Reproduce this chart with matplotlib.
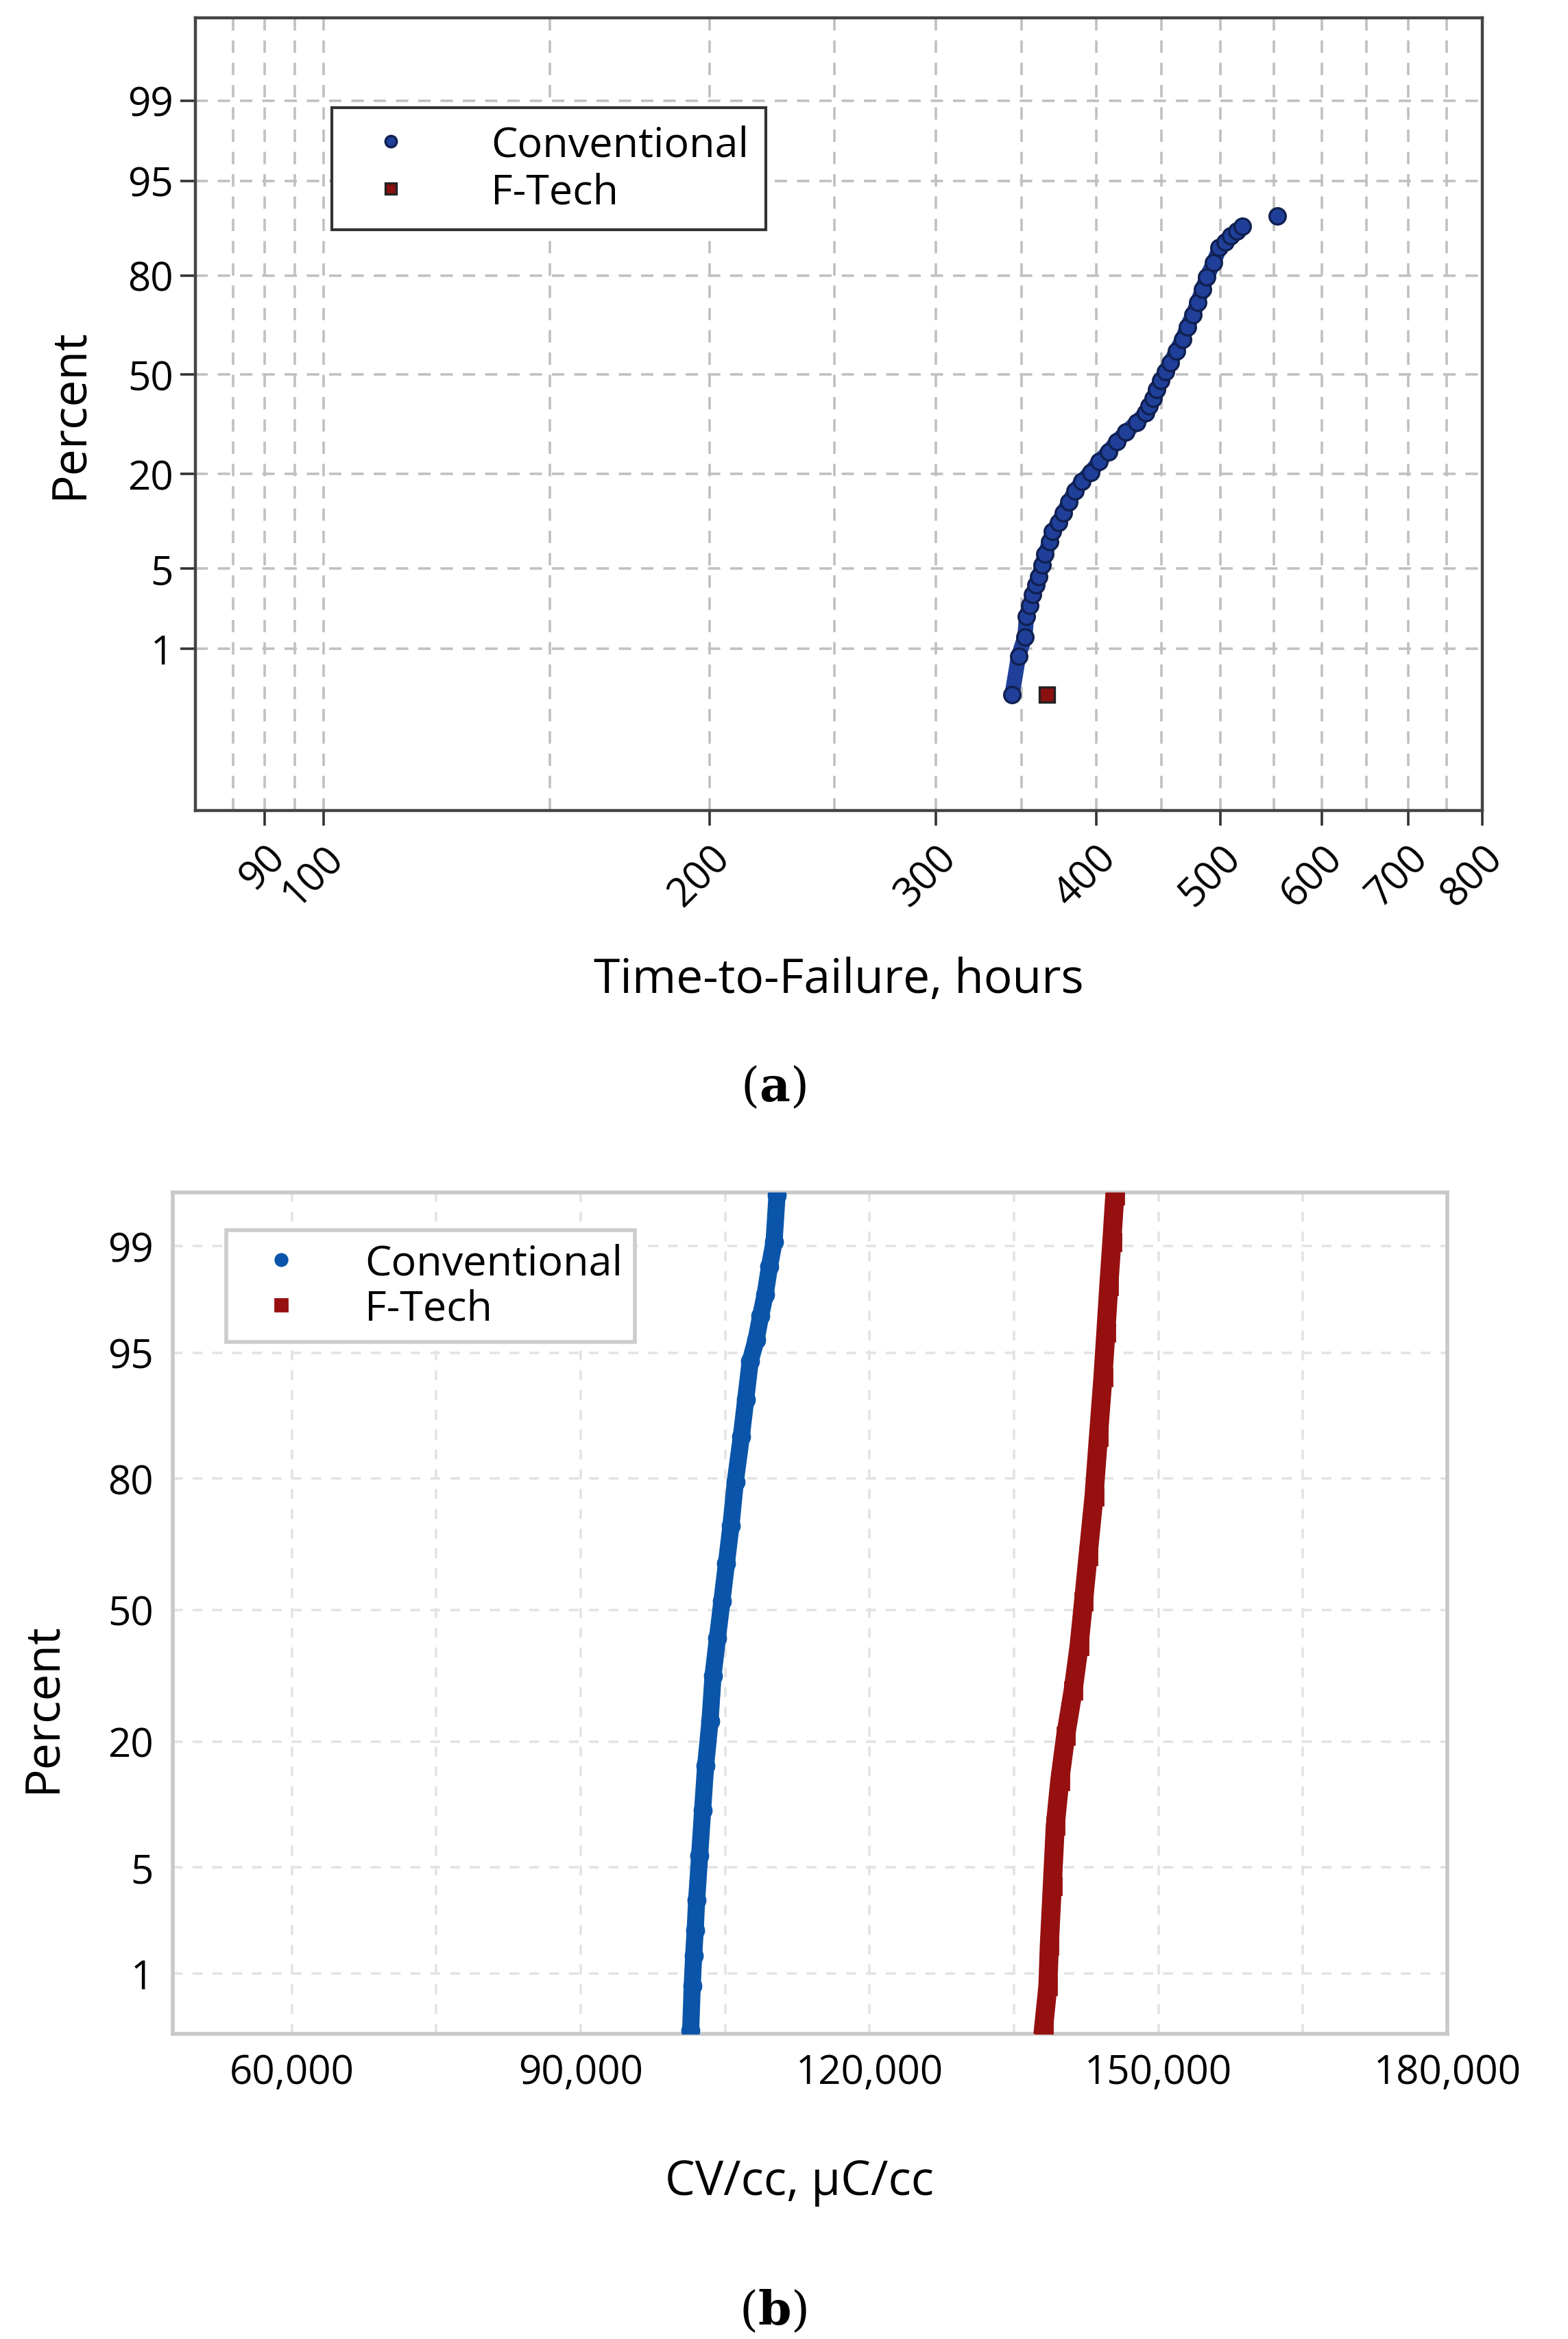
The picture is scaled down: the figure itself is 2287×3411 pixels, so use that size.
import matplotlib.pyplot as plt
from matplotlib.ticker import FixedLocator, NullFormatter
from statistics import NormalDist

plt.rcParams['font.family'] = ['Open Sans', 'DejaVu Sans']
plt.rcParams['mathtext.fontset'] = 'dejavuserif'

# (a) lognormal probability plot, time-to-failure
conv_hours = [344, 348, 352, 353, 355, 357, 359, 361, 363, 365, 368, 370, 374, 377, 381, 385,
              390, 396, 402, 409, 415, 422, 430, 437, 440, 443, 446, 449, 453, 457, 462,
              467, 471, 476, 480, 484, 488, 494, 499, 504, 509, 515, 520]
conv_hours_pct = [0.33, 0.85, 1.3, 2.0, 2.5, 3.1, 3.7, 4.3, 5.3, 6.4, 7.8, 9.2, 10.5, 12, 14, 16.2,
                  18.3, 20.4, 23, 25.7, 28.5, 31.3, 34.2, 37.2, 39.6, 42, 45, 48, 51, 54, 58,
                  61.8, 65.7, 69.5, 73, 76.5, 79.7, 82.9, 85.9, 87, 88, 88.8, 89.6]
conv_hours_last = [554]
conv_hours_last_pct = [91.1]
ftech_hours = [366]
ftech_hours_pct = [0.33]

# (b) normal probability plot, CV/cc
conv_cv = [101420, 101580, 101730, 101890, 102040, 102350, 102660, 102970, 103430, 103740,
           104200, 104670, 105130, 105600, 106060, 106680, 107140, 107600, 108220, 108690,
           109150, 109610, 110080, 110390]
conv_cv_pct = [0.36, 0.81, 1.35, 2.03, 3.17, 5.8, 10, 15.9, 23.9, 33.6, 42.8, 52.3, 61.6, 70.4,
               79.4, 86.6, 91.1, 94.4, 95.8, 97, 97.8, 98.6, 99.07, 99.6]
ftech_cv = [138050, 138520, 138670, 138980, 139290, 139750, 140370, 141140, 141760, 142230,
            142690, 143310, 143770, 144240, 144540, 144850, 145160, 145470]
ftech_cv_pct = [0.36, 0.81, 1.6, 3.9, 8.4, 13.7, 21.1, 30.3, 40.9, 52.3, 63.5, 76.6, 86.6,
                93.2, 96.2, 98.1, 99.07, 99.6]

pct_ticks = [1, 5, 20, 50, 80, 95, 99]
hour_ticks = [90, 100, 200, 300, 400, 500, 600, 700, 800]
hour_minor = [85, 95, 150, 250, 350, 450, 550, 650, 750]
cv_ticks = [60000, 90000, 120000, 150000, 180000]

nd = NormalDist()


def z(pcts):
    return [nd.inv_cdf(p / 100) for p in pcts]


fig = plt.figure(figsize=(11.435, 17.06), dpi=200)

# ---- panel (a)
ax = fig.add_axes([0.1244, 0.6532, 0.821, 0.339])
ax.set_xscale('log')
ax.plot(conv_hours, z(conv_hours_pct), '-', color='#1f3f99', lw=8, solid_capstyle='round', zorder=3)
ax.plot(conv_hours, z(conv_hours_pct), 'o', color='#1f3f99', mec='#102050', ms=8.5, mew=1.2,
        label='Conventional', zorder=4)
ax.plot(conv_hours_last, z(conv_hours_last_pct), 'o', color='#1f3f99', mec='#102050', ms=8.5,
        mew=1.2, zorder=4)
ax.plot(ftech_hours, z(ftech_hours_pct), 's', color='#8b1010', mec='#222222', ms=8, mew=1.2,
        label='F-Tech', zorder=4)
ax.set_xlim(79.4, 800)
ax.set_ylim(-3.7, 3.03)
ax.xaxis.set_major_locator(FixedLocator(hour_ticks))
ax.xaxis.set_minor_locator(FixedLocator(hour_minor))
ax.xaxis.set_minor_formatter(NullFormatter())
ax.set_xticklabels([str(t) for t in hour_ticks], rotation=45, ha='right', rotation_mode='anchor')
ax.set_yticks(z(pct_ticks))
ax.set_yticklabels([str(p) for p in pct_ticks])
ax.tick_params(axis='both', labelsize=21, length=8, width=1.3, color='#333333')
ax.tick_params(axis='x', which='minor', length=0)
ax.tick_params(axis='x', pad=6)
ax.grid(True, which='both', ls=(0, (5, 4)), color='#c0c0c0', lw=1.3)
for s in ax.spines.values():
    s.set_color('#444444')
    s.set_linewidth(1.6)
leg = ax.legend(loc='upper left', bbox_to_anchor=(0.09, 0.913), fontsize=22, fancybox=False,
                edgecolor='#333333', framealpha=1, handletextpad=1.4, borderpad=0.4,
                labelspacing=0.15, markerscale=0.7)
leg.get_frame().set_linewidth(1.5)
fig.text(0.045, 0.823, 'Percent', rotation=90, ha='center', va='center', fontsize=25)
fig.text(0.535, 0.581, 'Time-to-Failure, hours', ha='center', va='center', fontsize=25)
fig.text(0.493, 0.535, r'($\mathbf{a}$)', ha='center', va='center', fontsize=25,
         family='DejaVu Serif')

# ---- panel (b)
bx = fig.add_axes([0.110, 0.1305, 0.813, 0.3596])
bx.plot(conv_cv, z(conv_cv_pct), '-', color='#0a55aa', lw=9, zorder=3)
bx.plot(conv_cv, z(conv_cv_pct), 'o', color='#0a55aa', mec='#0a55aa', ms=9, label='Conventional',
        zorder=4)
bx.plot(ftech_cv, z(ftech_cv_pct), '-', color='#961010', lw=10, zorder=3)
bx.plot(ftech_cv, z(ftech_cv_pct), 's', color='#961010', mec='#961010', ms=9, label='F-Tech',
        zorder=4)
bx.set_xlim(47600, 178600)
bx.set_ylim(-2.71, 2.67)
bx.set_xticks(cv_ticks)
bx.set_xticklabels(['{:,}'.format(t) for t in cv_ticks])
bx.xaxis.set_minor_locator(FixedLocator([75000, 105000, 135000, 165000]))
bx.set_yticks(z(pct_ticks))
bx.set_yticklabels([str(p) for p in pct_ticks])
bx.tick_params(axis='both', labelsize=21, length=0, pad=10)
bx.tick_params(axis='x', which='minor', length=0)
bx.grid(True, which='both', ls=(0, (4, 4)), color='#e3e3e3', lw=1.3)
for s in bx.spines.values():
    s.set_color('#c8c8c8')
    s.set_linewidth(2)
leg2 = bx.legend(loc='upper left', bbox_to_anchor=(0.026, 0.98), fontsize=22, fancybox=False,
                 edgecolor='#cccccc', framealpha=1, handletextpad=1.0, borderpad=0.3,
                 labelspacing=0.1, markerscale=0.7)
leg2.get_frame().set_linewidth(2)
fig.text(0.028, 0.27, 'Percent', rotation=90, ha='center', va='center', fontsize=25)
fig.text(0.51, 0.067, 'CV/cc, µC/cc', ha='center', va='center', fontsize=25)
fig.text(0.493, 0.012, r'($\mathbf{b}$)', ha='center', va='center', fontsize=25,
         family='DejaVu Serif')

fig.savefig('out.png', dpi=200, facecolor='white')
